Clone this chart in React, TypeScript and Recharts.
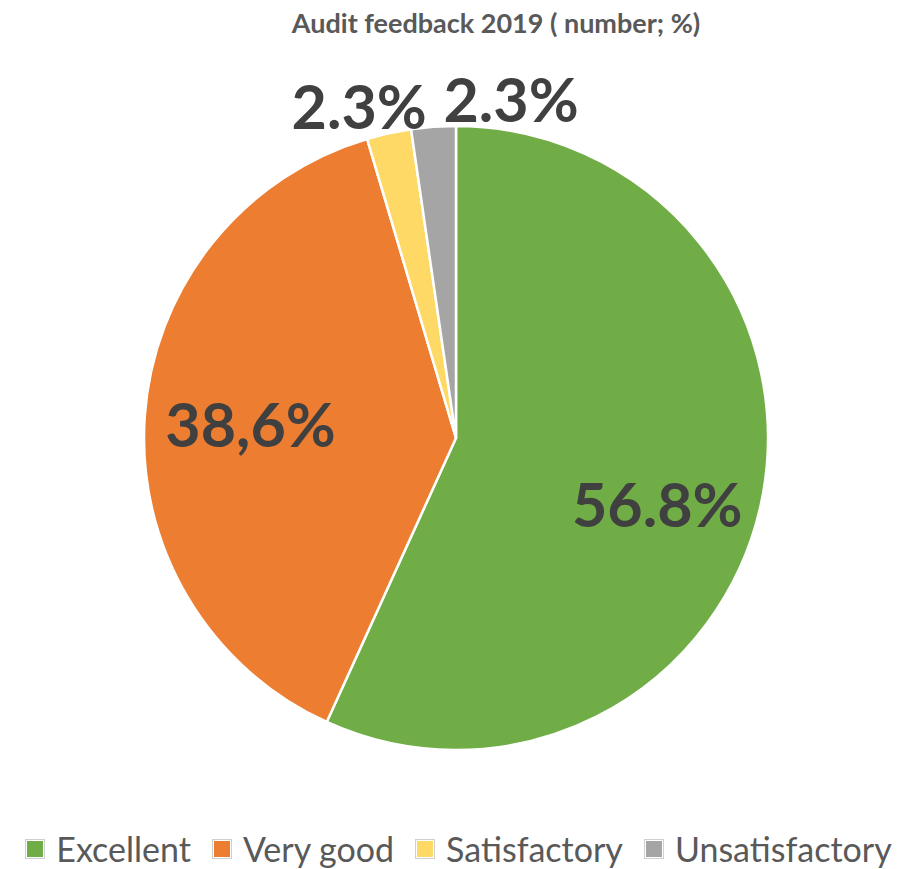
import { PieChart, Pie, Cell, Legend } from "recharts";

const categories = ["Excellent", "Very good", "Satisfactory", "Unsatisfactory"];
const shares = [56.8, 38.6, 2.3, 2.3];
const valueLabels = ["56.8%", "38,6%", "2.3%", "2.3%"];
const colors = ["#70AD47", "#ED7D31", "#FFD966", "#A5A5A5"];

const data = categories.map((name, i) => ({ name, value: shares[i], label: valueLabels[i] }));

const RAD = Math.PI / 180;

function renderLabel(props: any) {
  const { cx, cy, midAngle, outerRadius, index } = props;
  const small = shares[index] < 5;
  const r = small ? outerRadius + 28 : outerRadius * 0.66;
  let x = cx + r * Math.cos(-midAngle * RAD);
  let y = cy + r * Math.sin(-midAngle * RAD);
  let anchor: "middle" | "start" | "end" = "middle";
  if (small) {
    // spread the two thin slices' labels apart
    if (index === 2) { anchor = "end"; x += 44; }
    else { anchor = "start"; x += 12; }
  } else if (index === 0) {
    y += 22;
  }
  return (
    <text
      x={x}
      y={y}
      textAnchor={anchor}
      dominantBaseline="central"
      fill="#404040"
      fontSize={61}
      fontWeight={700}
      fontFamily="Lato, 'Open Sans', sans-serif"
    >
      {valueLabels[index]}
    </text>
  );
}

function LegendContent() {
  return (
    <div style={{ display: "flex", justifyContent: "center", alignItems: "center", fontFamily: "Lato, 'Open Sans', sans-serif", fontSize: 34, lineHeight: "normal", color: "#595959" }}>
      {categories.map((c, i) => (
        <div key={c} style={{ display: "flex", alignItems: "center", marginRight: i < categories.length - 1 ? 22 : 0 }}>
          <span style={{ width: 16, height: 16, background: colors[i], border: "1px solid #fff", outline: "1px solid #d0d0d0", marginRight: 12, display: "inline-block" }} />
          <span>{c}</span>
        </div>
      ))}
    </div>
  );
}

export default function App() {
  return (
    <div style={{ position: "absolute", left: 0, top: 0, width: 918, height: 869, background: "#fff" }}>
      <div
        style={{
          position: "absolute",
          top: 6,
          left: 0,
          width: 992,
          textAlign: "center",
          fontFamily: "Lato, 'Open Sans', sans-serif",
          fontWeight: 700,
          fontSize: 27,
          color: "#595959",
        }}
      >
        Audit feedback 2019 ( number; %)
      </div>
      <PieChart width={918} height={869} margin={{ top: 0, right: 0, bottom: 0, left: 0 }} style={{ position: "absolute", left: 0, top: 0 }}>
        <Pie
          data={data}
          dataKey="value"
          nameKey="name"
          cx={456}
          cy={438}
          outerRadius={312}
          startAngle={90}
          endAngle={-270}
          stroke="#ffffff"
          strokeWidth={2.5}
          label={renderLabel}
          labelLine={false}
          isAnimationActive={false}
        >
          {data.map((d, i) => (
            <Cell key={d.name} fill={colors[i]} />
          ))}
        </Pie>
        <Legend
          verticalAlign="bottom"
          align="center"
          content={<LegendContent />}
          wrapperStyle={{ bottom: 0, left: 0, width: 918 }}
        />
      </PieChart>
    </div>
  );
}
